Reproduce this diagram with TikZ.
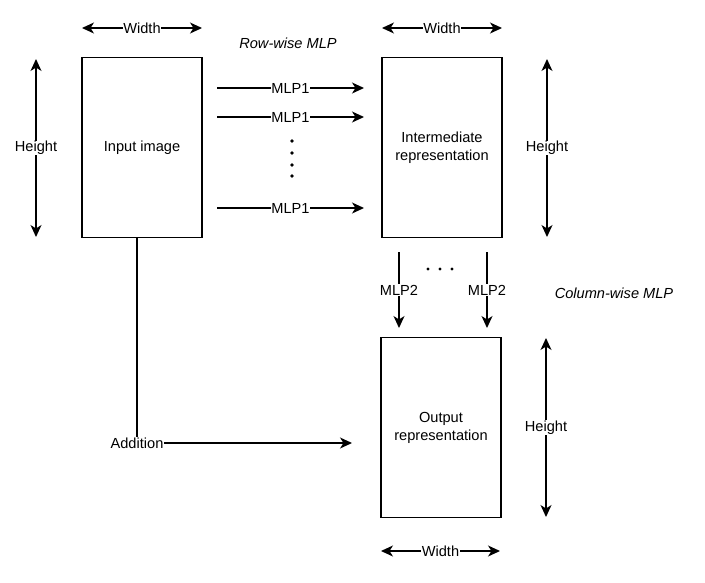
\documentclass[tikz,border=0pt]{standalone}
\usepackage{fontspec}
\setmainfont{Liberation Sans}
\usetikzlibrary{arrows.meta, positioning, calc}
\tikzset{
  block/.style={draw, line width=1.3pt, minimum width=120pt, minimum height=180pt, align=center, inner sep=0pt},
  dimarrow/.style={{Stealth[length=12pt,width=11pt,inset=3.5pt]}-{Stealth[length=12pt,width=11pt,inset=3.5pt]}, line width=1.3pt},
  flow/.style={-{Stealth[length=12pt,width=11pt,inset=3.5pt]}, line width=1.3pt},
  lbl/.style={fill=white, inner sep=0.6pt},
}
\begin{document}
\begin{tikzpicture}[x=1pt, y=-1pt, font=\fontsize{14.6}{18}\selectfont]
  \useasboundingbox (0,0) rectangle (705,582);
  % the three blocks
  \node[block] (in)  at (142,147.5) {Input image};
  \node[block] (mid) at (442,147.5) {Intermediate\\representation};
  \node[block] (out) at (441,427.5) {Output\\representation};

  % width and height markers
  \coordinate (w1a) at (82,28);   \coordinate (w1b) at (202,28);
  \coordinate (w2a) at (382,28);  \coordinate (w2b) at (502,28);
  \coordinate (w3a) at (381,551); \coordinate (w3b) at (500,551);
  \coordinate (h1a) at (36,59);   \coordinate (h1b) at (36,237);
  \coordinate (h2a) at (547,59);  \coordinate (h2b) at (547,237);
  \coordinate (h3a) at (546,338); \coordinate (h3b) at (546,517);
  \foreach \a/\b in {w1a/w1b, w2a/w2b, w3a/w3b}
    \draw[dimarrow] (\a) -- node[lbl] {Width} (\b);
  \foreach \a/\b in {h1a/h1b, h2a/h2b, h3a/h3b}
    \draw[dimarrow] (\a) -- node[lbl] {Height} (\b);

  % row-wise MLP
  \node[font=\fontsize{14.6}{18}\selectfont\itshape] (rowlbl) at (288,43) {Row-wise MLP};
  \foreach \y/\n in {88/1, 117/2, 208/3} {
    \coordinate (r\n s) at (217,\y);
    \coordinate (r\n e) at (364,\y);
    \draw[flow] (r\n s) -- node[lbl] {MLP1} (r\n e);
  }
  \foreach \y in {141,153,165,176}
    \fill (292,\y) circle (1.8pt);

  % column-wise MLP
  \node[font=\fontsize{14.6}{18}\selectfont\itshape] (collbl) at (614,293) {Column-wise MLP};
  \foreach \x/\n in {399/1, 487/2} {
    \coordinate (c\n s) at (\x,252);
    \coordinate (c\n e) at (\x,328);
    \draw[flow] (c\n s) -- node[lbl] {MLP2} (c\n e);
  }
  \foreach \x in {428,440,452}
    \fill (\x,269) circle (1.6pt);

  % skip connection
  \node[inner sep=0.6pt] (add) at (137,443) {Addition};
  \coordinate (addto) at (352,443);
  \draw[line width=1.3pt] (add.north) -- (add.north |- in.south);
  \draw[flow] (add.east) -- (addto);
\end{tikzpicture}
\end{document}
